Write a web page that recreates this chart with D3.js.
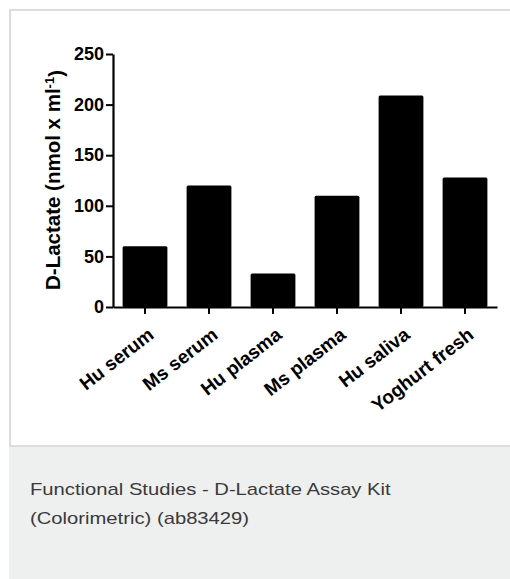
<!DOCTYPE html>
<html>
<head>
<meta charset="utf-8">
<script src="https://cdn.jsdelivr.net/npm/d3@7"></script>
<style>
  body { margin: 0; background: #fff; }
  svg { display: block; }
</style>
</head>
<body>
<script>
const width = 510;
const height = 579;

// Data
const samples = ['Hu serum', 'Ms serum', 'Hu plasma', 'Ms plasma', 'Hu saliva', 'Yoghurt fresh'];
const lactate = [60, 120, 33, 110, 209, 128];
const yTicks = [0, 50, 100, 150, 200, 250];
const captionLines = ['Functional Studies - D-Lactate Assay Kit', '(Colorimetric) (ab83429)'];

const svg = d3.select('body')
  .append('svg')
  .attr('width', width)
  .attr('height', height);

// card frame + caption panel
svg.append('rect')
  .attr('x', 10).attr('y', 10)
  .attr('width', width + 10).attr('height', 436)
  .attr('fill', '#fff')
  .attr('stroke', '#dddddd')
  .attr('stroke-width', 2);

svg.append('rect')
  .attr('x', 9).attr('y', 447)
  .attr('width', width).attr('height', height - 447)
  .attr('fill', '#eeefef');

// caption text looks a bit wide, so stretch it horizontally
svg.append('g')
  .attr('transform', 'translate(30,0) scale(1.19,1)')
  .selectAll('text')
  .data(captionLines)
  .join('text')
  .attr('x', 0)
  .attr('y', (d, i) => 495 + i * 29.5)
  .attr('fill', '#3a3a3a')
  .style('font-family', 'Liberation Sans, Arial, sans-serif')
  .style('font-size', '17px')
  .text(d => d);

// scales
const x = d3.scaleBand()
  .domain(samples)
  .range([113, 497])
  .paddingInner(0.3)
  .paddingOuter(0.15);

const y = d3.scaleLinear()
  .domain([0, 250])
  .range([307, 54]);

const font = 'Liberation Sans, Arial, Helvetica, sans-serif';

// bars
svg.append('g')
  .selectAll('rect')
  .data(samples)
  .join('rect')
  .attr('x', d => x(d))
  .attr('y', (d, i) => y(lactate[i]))
  .attr('width', x.bandwidth())
  .attr('height', (d, i) => y(0) - y(lactate[i]))
  .attr('rx', 1.5)
  .attr('fill', '#000');

// y axis
const yAxis = svg.append('g')
  .attr('transform', 'translate(113,0)')
  .call(d3.axisLeft(y).tickValues(yTicks).tickSize(7).tickPadding(2).tickSizeOuter(0));

yAxis.select('.domain').attr('stroke-width', 2.2);
yAxis.selectAll('.tick line').attr('stroke-width', 2);
yAxis.selectAll('.tick text')
  .style('font-family', font)
  .style('font-size', '18px')
  .style('font-weight', 'bold')
  .attr('fill', '#000');

// x axis
const xAxis = svg.append('g')
  .attr('transform', 'translate(0,307)')
  .call(d3.axisBottom(x).tickSize(7).tickSizeOuter(0).tickFormat(''));

xAxis.select('.domain').attr('stroke-width', 2.2);
xAxis.selectAll('.tick line').attr('stroke-width', 2);

svg.append('g')
  .selectAll('text')
  .data(samples)
  .join('text')
  .attr('transform', d => `translate(${x(d) + x.bandwidth() / 2 + 10},337) rotate(-38)`)
  .attr('text-anchor', 'end')
  .style('font-family', font)
  .style('font-size', '19px')
  .style('font-weight', 'bold')
  .attr('fill', '#000')
  .text(d => d);

// y axis title with superscript
const yTitle = svg.append('text')
  .attr('transform', 'translate(60,180) rotate(-90)')
  .attr('text-anchor', 'middle')
  .style('font-family', font)
  .style('font-size', '20.5px')
  .style('font-weight', 'bold')
  .attr('fill', '#000');

yTitle.append('tspan').text('D-Lactate (nmol x ml');
yTitle.append('tspan').attr('dy', '-0.45em').style('font-size', '13px').text('-1');
yTitle.append('tspan').attr('dy', '0.45em').text(')');
</script>
</body>
</html>
